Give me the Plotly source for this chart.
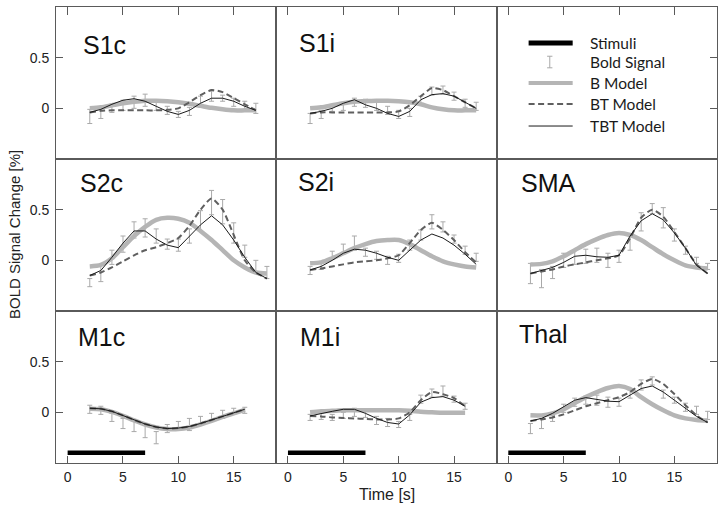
import plotly.graph_objects as go
from plotly.subplots import make_subplots

# ---------------- data ----------------
t17 = list(range(2, 18))   # 2..17 s
t18 = list(range(2, 19))   # 2..18 s
t16 = list(range(2, 17))   # 2..16 s

# S1c
S1c_bold = [-0.08, -0.05, 0.0, 0.03, 0.06, 0.08, 0.03, -0.02, -0.06, -0.03, 0.07, 0.12, 0.1, 0.06, 0.02, 0.0]
S1c_err = [0.07, 0.05, 0.04, 0.05, 0.06, 0.06, 0.05, 0.04, 0.03, 0.04, 0.05, 0.05, 0.03, 0.04, 0.05, 0.05]
S1c_B = [0.0, 0.01, 0.03, 0.05, 0.065, 0.075, 0.075, 0.07, 0.06, 0.045, 0.025, 0.005, -0.01, -0.02, -0.02, -0.02]
S1c_BT = [-0.04, -0.025, -0.02, -0.02, -0.02, -0.02, -0.02, -0.015, 0.0, 0.06, 0.13, 0.18, 0.16, 0.1, 0.04, -0.02]
S1c_TBT = [-0.04, -0.01, 0.04, 0.08, 0.095, 0.07, 0.02, -0.03, -0.06, -0.02, 0.05, 0.1, 0.1, 0.07, 0.02, -0.02]

# S1i
S1i_bold = [-0.1, -0.06, 0.0, 0.02, 0.06, 0.05, 0.02, -0.02, -0.06, -0.04, 0.08, 0.17, 0.18, 0.12, 0.05, 0.02]
S1i_err = [0.05, 0.04, 0.03, 0.04, 0.04, 0.04, 0.04, 0.04, 0.04, 0.04, 0.04, 0.04, 0.04, 0.04, 0.04, 0.04]
S1i_B = [0.0, 0.01, 0.03, 0.05, 0.065, 0.07, 0.075, 0.075, 0.07, 0.06, 0.04, 0.01, -0.01, -0.02, -0.02, -0.02]
S1i_BT = [-0.05, -0.04, -0.04, -0.04, -0.04, -0.04, -0.04, -0.04, -0.03, 0.03, 0.12, 0.2, 0.18, 0.12, 0.06, 0.0]
S1i_TBT = [-0.05, -0.03, 0.0, 0.05, 0.085, 0.035, 0.0, -0.05, -0.08, -0.03, 0.085, 0.135, 0.145, 0.12, 0.06, 0.0]

# S2c
S2c_bold = [-0.22, -0.13, 0.03, 0.16, 0.3, 0.32, 0.24, 0.16, 0.15, 0.24, 0.39, 0.57, 0.48, 0.27, 0.09, -0.06, -0.12]
S2c_err = [0.04, 0.08, 0.07, 0.08, 0.08, 0.09, 0.07, 0.05, 0.06, 0.07, 0.1, 0.12, 0.12, 0.1, 0.06, 0.06, 0.06]
S2c_B = [-0.06, -0.045, 0.02, 0.13, 0.24, 0.33, 0.4, 0.42, 0.41, 0.37, 0.29, 0.2, 0.1, 0.0, -0.07, -0.12, -0.13]
S2c_BT = [-0.15, -0.12, -0.07, -0.01, 0.05, 0.1, 0.13, 0.17, 0.22, 0.34, 0.5, 0.61, 0.5, 0.25, 0.0, -0.12, -0.18]
S2c_TBT = [-0.15, -0.1, 0.03, 0.17, 0.29, 0.29, 0.21, 0.15, 0.125, 0.24, 0.35, 0.44, 0.35, 0.2, 0.03, -0.12, -0.18]

# S2i
S2i_bold = [-0.1, -0.05, 0.05, 0.12, 0.17, 0.08, 0.05, 0.0, 0.02, 0.15, 0.25, 0.38, 0.33, 0.21, 0.1, 0.03]
S2i_err = [0.04, 0.04, 0.04, 0.04, 0.07, 0.04, 0.04, 0.04, 0.04, 0.05, 0.05, 0.07, 0.05, 0.04, 0.04, 0.04]
S2i_B = [-0.03, -0.02, 0.02, 0.07, 0.12, 0.16, 0.19, 0.2, 0.2, 0.16, 0.1, 0.04, -0.01, -0.04, -0.06, -0.07]
S2i_BT = [-0.095, -0.08, -0.06, -0.04, -0.02, -0.01, 0.0, 0.02, 0.05, 0.17, 0.3, 0.37, 0.3, 0.2, 0.08, -0.02]
S2i_TBT = [-0.095, -0.06, 0.0, 0.07, 0.11, 0.1, 0.07, 0.03, 0.0, 0.1, 0.2, 0.26, 0.22, 0.15, 0.06, -0.04]

# SMA
SMA_bold = [-0.13, -0.18, -0.12, 0.0, 0.03, 0.04, 0.05, 0.0, 0.04, 0.18, 0.38, 0.51, 0.42, 0.25, 0.1, 0.0, -0.06]
SMA_err = [0.1, 0.09, 0.06, 0.07, 0.07, 0.07, 0.07, 0.07, 0.06, 0.08, 0.09, 0.05, 0.1, 0.06, 0.04, 0.03, 0.03]
SMA_B = [-0.04, -0.035, -0.01, 0.04, 0.1, 0.16, 0.21, 0.25, 0.27, 0.25, 0.2, 0.13, 0.06, 0.0, -0.05, -0.07, -0.08]
SMA_BT = [-0.13, -0.11, -0.09, -0.06, -0.04, -0.02, 0.0, 0.02, 0.05, 0.22, 0.42, 0.5, 0.43, 0.28, 0.12, -0.04, -0.13]
SMA_TBT = [-0.13, -0.1, -0.07, -0.02, 0.04, 0.05, 0.035, 0.03, 0.05, 0.24, 0.39, 0.46, 0.4, 0.27, 0.12, -0.05, -0.13]

# M1c
M1c_bold = [0.03, 0.02, -0.05, -0.11, -0.13, -0.19, -0.25, -0.16, -0.13, -0.12, -0.08, -0.05, -0.02, 0.01, 0.02]
M1c_err = [0.04, 0.04, 0.04, 0.05, 0.06, 0.06, 0.06, 0.04, 0.04, 0.06, 0.04, 0.04, 0.04, 0.03, 0.03]
M1c_B = [0.035, 0.03, 0.005, -0.035, -0.08, -0.12, -0.15, -0.165, -0.165, -0.15, -0.12, -0.085, -0.045, -0.01, 0.025]
M1c_BT = [0.04, 0.035, 0.01, -0.03, -0.075, -0.115, -0.145, -0.16, -0.155, -0.14, -0.11, -0.075, -0.04, -0.005, 0.03]
M1c_TBT = [0.04, 0.035, 0.01, -0.03, -0.075, -0.115, -0.145, -0.16, -0.155, -0.14, -0.11, -0.075, -0.04, -0.005, 0.03]

# M1i
M1i_bold = [-0.05, -0.04, -0.05, -0.03, 0.0, -0.02, -0.08, -0.1, -0.12, -0.05, 0.13, 0.19, 0.21, 0.13, 0.06]
M1i_err = [0.03, 0.03, 0.03, 0.03, 0.04, 0.03, 0.04, 0.04, 0.03, 0.03, 0.04, 0.04, 0.05, 0.03, 0.03]
M1i_B = [0.0, 0.01, 0.015, 0.02, 0.02, 0.02, 0.02, 0.02, 0.02, 0.015, 0.005, 0.0, -0.005, -0.005, -0.005]
M1i_BT = [-0.035, -0.04, -0.05, -0.055, -0.06, -0.065, -0.07, -0.07, -0.06, 0.0, 0.12, 0.2, 0.18, 0.14, 0.06]
M1i_TBT = [-0.035, -0.01, 0.01, 0.03, 0.03, -0.01, -0.06, -0.1, -0.115, -0.025, 0.1, 0.145, 0.155, 0.12, 0.06]

# Thal
Thal_bold = [-0.16, -0.11, -0.06, 0.04, 0.1, 0.12, 0.12, 0.1, 0.1, 0.18, 0.27, 0.31, 0.18, 0.12, 0.05, 0.02, -0.03]
Thal_err = [0.05, 0.05, 0.03, 0.04, 0.04, 0.04, 0.05, 0.05, 0.04, 0.04, 0.05, 0.04, 0.04, 0.03, 0.04, 0.04, 0.04]
Thal_B = [-0.03, -0.03, -0.01, 0.03, 0.09, 0.15, 0.2, 0.24, 0.26, 0.23, 0.15, 0.08, 0.02, -0.03, -0.06, -0.075, -0.08]
Thal_BT = [-0.085, -0.07, -0.05, -0.02, 0.02, 0.06, 0.09, 0.12, 0.15, 0.2, 0.28, 0.33, 0.28, 0.18, 0.07, -0.03, -0.1]
Thal_TBT = [-0.085, -0.06, -0.01, 0.055, 0.12, 0.145, 0.13, 0.11, 0.105, 0.17, 0.235, 0.26, 0.2, 0.12, 0.04, -0.04, -0.1]

# stimulus period
stim_time = [0, 7]
stim_level = [-0.4, -0.4]

x_ticks = [0, 5, 10, 15]
y_ticks = [0, 0.5]
y_tick_text = ["0", "0.5"]
x_range = [-1.05, 18.85]
y_range = [-0.5, 1.0]

panels = [
    # (row, col, label, time, bold, err, B, BT, TBT, stimulus?)
    (1, 1, "S1c", t17, S1c_bold, S1c_err, S1c_B, S1c_BT, S1c_TBT, False),
    (1, 2, "S1i", t17, S1i_bold, S1i_err, S1i_B, S1i_BT, S1i_TBT, False),
    (2, 1, "S2c", t18, S2c_bold, S2c_err, S2c_B, S2c_BT, S2c_TBT, False),
    (2, 2, "S2i", t17, S2i_bold, S2i_err, S2i_B, S2i_BT, S2i_TBT, False),
    (2, 3, "SMA", t18, SMA_bold, SMA_err, SMA_B, SMA_BT, SMA_TBT, False),
    (3, 1, "M1c", t16, M1c_bold, M1c_err, M1c_B, M1c_BT, M1c_TBT, True),
    (3, 2, "M1i", t16, M1i_bold, M1i_err, M1i_B, M1i_BT, M1i_TBT, True),
    (3, 3, "Thal", t18, Thal_bold, Thal_err, Thal_B, Thal_BT, Thal_TBT, True),
]

label_pos = {
    "S1c": (0.115, 0.75), "S1i": (0.093, 0.76),
    "S2c": (0.098, 0.842), "S2i": (0.088, 0.85), "SMA": (0.103, 0.84),
    "M1c": (0.092, 0.826), "M1i": (0.097, 0.83), "Thal": (0.093, 0.85),
}

# ---------------- styles ----------------
ERR_COL = "#a9a9a9"
B_COL = "#b5b5b5"
BT_COL = "#5f5f5f"
TBT_COL = "#1a1a1a"
FRAME = "#5a5a5a"
BT_DASH = "6px,3.5px"

fig = make_subplots(rows=3, cols=3, horizontal_spacing=0, vertical_spacing=0)

for (r, c, lab, tt, bold, err, bm, btm, tbtm, stim) in panels:
    fig.add_trace(go.Scatter(x=tt, y=bold, mode="markers",
                             marker=dict(size=1, color="rgba(0,0,0,0)"),
                             error_y=dict(type="data", array=err, visible=True,
                                          color=ERR_COL, thickness=1, width=2.5),
                             showlegend=False, hoverinfo="skip"), row=r, col=c)
    fig.add_trace(go.Scatter(x=tt, y=bm, mode="lines",
                             line=dict(color=B_COL, width=4.5, shape="spline", smoothing=0.8),
                             showlegend=False), row=r, col=c)
    fig.add_trace(go.Scatter(x=tt, y=btm, mode="lines",
                             line=dict(color=BT_COL, width=2, dash=BT_DASH, shape="spline", smoothing=0.6),
                             showlegend=False), row=r, col=c)
    fig.add_trace(go.Scatter(x=tt, y=tbtm, mode="lines",
                             line=dict(color=TBT_COL, width=1),
                             showlegend=False), row=r, col=c)
    if stim:
        fig.add_trace(go.Scatter(x=stim_time, y=stim_level, mode="lines",
                                 line=dict(color="black", width=4.5),
                                 showlegend=False), row=r, col=c)

# empty trace so that the legend panel (row 1, col 3) gets its axes drawn
fig.add_trace(go.Scatter(x=[None], y=[None], mode="lines", showlegend=False, hoverinfo="skip"), row=1, col=3)

# axes
tickfont = dict(family="Liberation Sans, Arial, sans-serif", size=14, color="#222")
for r in range(1, 4):
    for c in range(1, 4):
        xa = dict(range=x_range, tickvals=x_ticks, showline=True, mirror=True, automargin=False,
                  linecolor=FRAME, linewidth=1, showgrid=False, zeroline=False,
                  ticklen=8, tickcolor=FRAME, tickwidth=1, tickfont=tickfont)
        if r == 1:
            xa.update(side="top", ticks="inside", showticklabels=False)
        elif r == 2:
            xa.update(ticks="", showticklabels=False)
        else:
            xa.update(side="bottom", ticks="inside", ticklen=7, showticklabels=True, ticklabelstandoff=1)
        ya = dict(range=y_range, tickvals=y_ticks, ticktext=y_tick_text, showline=True, mirror=True,
                  automargin=False,
                  linecolor=FRAME, linewidth=1, showgrid=False, zeroline=False,
                  ticklen=7, tickcolor=FRAME, tickwidth=1, tickfont=tickfont)
        if c == 1:
            ya.update(side="left", ticks="inside", showticklabels=True, ticklabelstandoff=3)
        elif c == 2:
            ya.update(ticks="", showticklabels=False)
        else:
            ya.update(side="right", ticks="inside", showticklabels=False)
        fig.update_xaxes(row=r, col=c, **xa)
        fig.update_yaxes(row=r, col=c, **ya)

# axis id map (row-major)
def axid(r, c):
    n = (r - 1) * 3 + c
    return ("x" if n == 1 else f"x{n}"), ("y" if n == 1 else f"y{n}")

annotations = []
for (r, c, lab, *_rest) in panels:
    xid, yid = axid(r, c)
    lx, ly = label_pos[lab]
    annotations.append(dict(text=lab, xref=f"{xid} domain", yref=f"{yid} domain",
                            x=lx, y=ly, xanchor="left", yanchor="middle", showarrow=False,
                            font=dict(family="Liberation Sans, Arial, sans-serif", size=25, color="#111")))

# legend (drawn in the empty top-right panel)
lx_id, ly_id = axid(1, 3)
xr, yr = f"{lx_id} domain", f"{ly_id} domain"
leg_font = dict(family="Lato, Open Sans, sans-serif", size=15.5, color="#1a1a1a")
legend_items = ["Stimuli", "Bold Signal", "B Model", "BT Model", "TBT Model"]
legend_y = [0.763, 0.638, 0.5, 0.362, 0.217]
shapes = []
x0s, x1s, xtext = 0.145, 0.345, 0.414
shapes.append(dict(type="line", xref=xr, yref=yr, x0=x0s, x1=x1s, y0=legend_y[0], y1=legend_y[0],
                   line=dict(color="black", width=5)))
xc = 0.241
shapes.append(dict(type="line", xref=xr, yref=yr, x0=xc, x1=xc, y0=legend_y[1] - 0.038, y1=legend_y[1] + 0.038,
                   line=dict(color=ERR_COL, width=1)))
for yy in (legend_y[1] - 0.038, legend_y[1] + 0.038):
    shapes.append(dict(type="line", xref=xr, yref=yr, x0=xc - 0.012, x1=xc + 0.012, y0=yy, y1=yy,
                       line=dict(color=ERR_COL, width=1)))
shapes.append(dict(type="line", xref=xr, yref=yr, x0=x0s, x1=x1s, y0=legend_y[2], y1=legend_y[2],
                   line=dict(color=B_COL, width=4)))
shapes.append(dict(type="line", xref=xr, yref=yr, x0=x0s, x1=x1s, y0=legend_y[3], y1=legend_y[3],
                   line=dict(color=BT_COL, width=2, dash=BT_DASH)))
shapes.append(dict(type="line", xref=xr, yref=yr, x0=x0s, x1=x1s, y0=legend_y[4], y1=legend_y[4],
                   line=dict(color=TBT_COL, width=1)))
for name, yy in zip(legend_items, legend_y):
    annotations.append(dict(text=name, xref=xr, yref=yr, x=xtext, y=yy, xanchor="left", yanchor="middle",
                            showarrow=False, font=leg_font))

# axis titles
annotations.append(dict(text="BOLD Signal Change [%]", xref="paper", yref="paper", x=-0.0635, y=0.5,
                        xanchor="center", yanchor="middle", textangle=-90, showarrow=False,
                        font=dict(family="Liberation Sans, Arial, sans-serif", size=15, color="#222")))
annotations.append(dict(text="Time [s]", xref="paper", yref="paper", x=0.5, y=-0.069,
                        xanchor="center", yanchor="middle", showarrow=False,
                        font=dict(family="Liberation Sans, Arial, sans-serif", size=16, color="#222")))

fig.update_layout(width=725, height=509, margin=dict(l=56, r=8, t=7, b=46, autoexpand=False),
                  paper_bgcolor="white", plot_bgcolor="white", showlegend=False,
                  annotations=annotations, shapes=shapes)

fig.write_html("out.html", config={"displayModeBar": False},
               post_script="document.body.style.margin='0';document.body.style.padding='0';")
